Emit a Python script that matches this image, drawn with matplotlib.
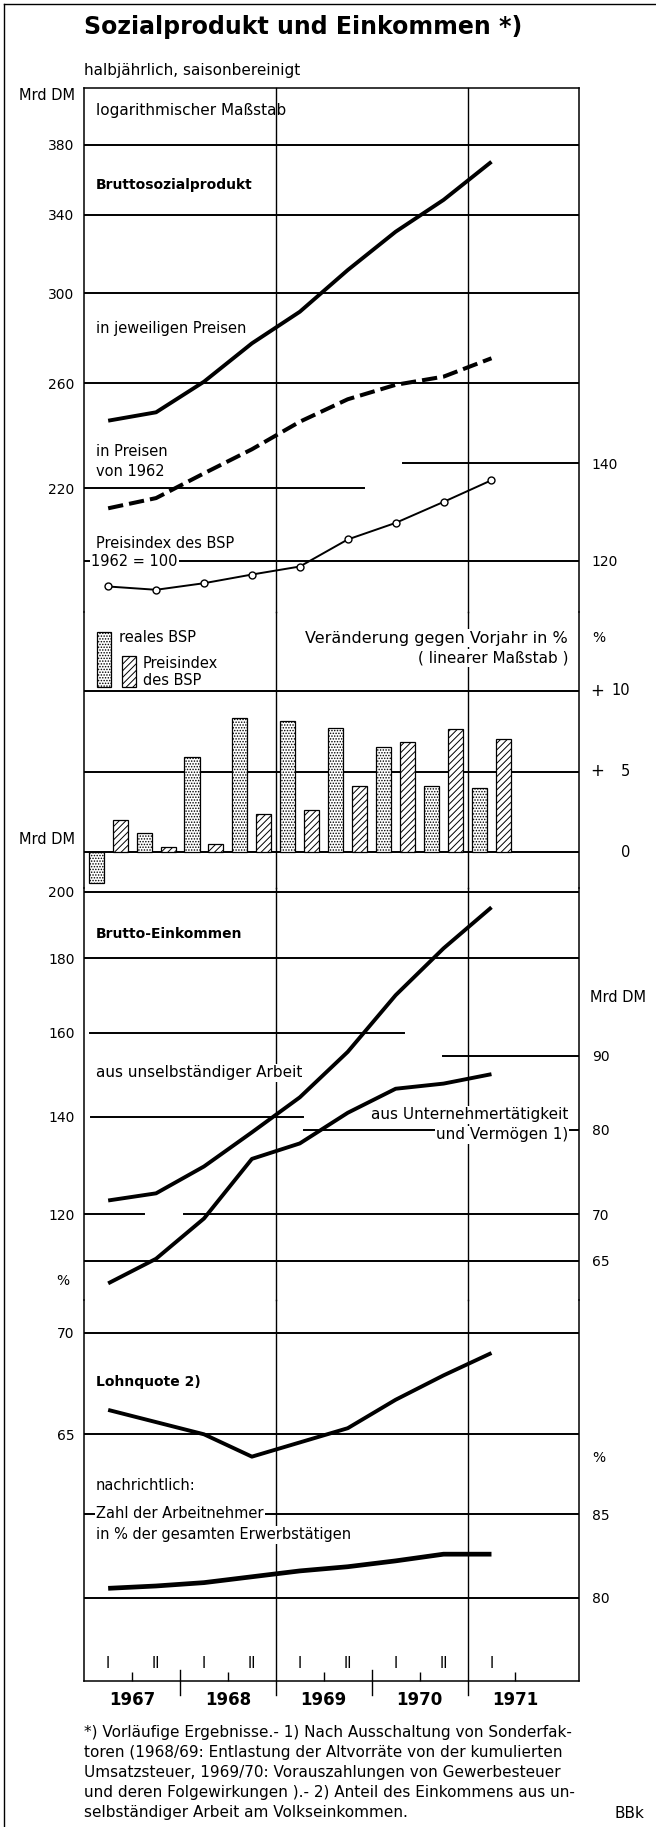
import numpy as np
import matplotlib
matplotlib.use("Agg")
import matplotlib.pyplot as plt
from matplotlib.lines import Line2D
from matplotlib.patches import Rectangle
from matplotlib.ticker import FixedLocator, FixedFormatter, NullLocator
from matplotlib.transforms import blended_transform_factory

plt.rcParams['font.family'] = ['DejaVu Sans']
plt.rcParams['hatch.linewidth'] = 0.7

# ---------------- data ----------------
periods = [1967.25, 1967.75, 1968.25, 1968.75, 1969.25, 1969.75, 1970.25, 1970.75, 1971.25]
half_labels = ["I", "II", "I", "II", "I", "II", "I", "II", "I"]
years = [1967, 1968, 1969, 1970, 1971]

bsp_nominal = [245.0, 248.3, 260.7, 277.1, 291.4, 311.4, 331.0, 348.2, 370.0]
bsp_real = [213.1, 216.6, 225.3, 234.1, 244.6, 253.5, 259.4, 262.8, 270.6]
bsp_price_index = [115.2, 114.6, 115.8, 117.4, 118.9, 124.1, 127.4, 131.7, 136.3]

growth_real = [-1.9, 1.2, 5.9, 8.3, 8.1, 7.7, 6.5, 4.1, 4.0]
growth_price = [2.0, 0.3, 0.5, 2.4, 2.6, 4.1, 6.8, 7.6, 7.0]

income_employees = [122.6, 124.0, 129.4, 136.6, 144.4, 155.2, 169.8, 182.9, 195.2]
income_entrepreneurs = [62.7, 65.2, 69.5, 76.4, 78.3, 82.2, 85.4, 86.1, 87.4]

wage_share = [66.2, 65.6, 65.0, 63.9, 64.6, 65.3, 66.7, 67.9, 69.0]
employee_share = [80.56, 80.7, 80.9, 81.25, 81.6, 81.85, 82.2, 82.6, 82.6]

ticks_bsp = [220, 260, 300, 340, 380]
ticks_index = [120, 140]
ticks_growth = [0, 5, 10]
growth_labels = ["0", "5", "10"]
ticks_income_l = [120, 140, 160, 180, 200]
ticks_income_r = [65, 70, 80, 90]
ticks_wage = [65, 70]
ticks_employees = [80, 85]

footnote = [
    "*) Vorläufige Ergebnisse.- 1) Nach Ausschaltung von Sonderfak-",
    "toren (1968/69: Entlastung der Altvorräte von der kumulierten",
    "Umsatzsteuer, 1969/70: Vorauszahlungen von Gewerbesteuer",
    "und deren Folgewirkungen ).- 2) Anteil des Einkommens aus un-",
    "selbständiger Arbeit am Volkseinkommen.",
]

# ---------------- layout ----------------
W, H, DPI = 656, 1827, 100
L, R = 84.0, 579.3
X0_PX, YEAR_PX = 84.2, 95.83


def px2year(px):
    return 1967 + (px - X0_PX) / YEAR_PX


XLIM = (px2year(L), px2year(R))


def fr(px):
    return (px - L) / (R - L)


def lin_lim(v1, p1, v2, p2, top, bot):
    k = (v1 - v2) / (p2 - p1)
    return v1 - (bot - p1) * k, v1 + (p1 - top) * k


def log_lim(v1, p1, v2, p2, top, bot):
    lo, hi = lin_lim(np.log(v1), p1, np.log(v2), p2, top, bot)
    return float(np.exp(lo)), float(np.exp(hi))


fig = plt.figure(figsize=(W / DPI, H / DPI), dpi=DPI)
fig.patch.set_facecolor('white')

GRID_LW = 1.4
VGRID_LW = 1.0


def add_panel(top, bot):
    ax = fig.add_axes([L / W, 1 - bot / H, (R - L) / W, (bot - top) / H])
    ax.set_xlim(*XLIM)
    ax.patch.set_visible(False)
    for s in ['top', 'bottom']:
        ax.spines[s].set_visible(False)
    for s in ['left', 'right']:
        ax.spines[s].set_linewidth(1.1)
    ax.set_xticks([])
    ax.tick_params(axis='y', length=0, labelsize=10, pad=6.8)
    return ax


def add_twin(ax):
    tw = ax.twinx()
    tw.set_xlim(*XLIM)
    for s in tw.spines.values():
        s.set_visible(False)
    tw.tick_params(axis='y', length=0, labelsize=10, pad=9.0)
    tw.set_xticks([])
    return tw


def set_ticks(ax, ticks):
    ax.yaxis.set_major_locator(FixedLocator(ticks))
    ax.yaxis.set_major_formatter(FixedFormatter([str(t) for t in ticks]))
    ax.yaxis.set_minor_locator(NullLocator())


def hgrid(ax, v, x0=0.0, x1=1.0):
    ax.axhline(v, xmin=x0, xmax=x1, color='black', lw=GRID_LW, zorder=1)


def vgrid(ax, ymin=0.0):
    for yr in (1969, 1971):
        ax.axvline(yr, ymin=ymin, ymax=1, color='black', lw=VGRID_LW, zorder=1, clip_on=False)


def ftext(px, py, s, size=11, ha='left', va='center', weight='normal', white=False):
    bbox = dict(facecolor='white', edgecolor='none', pad=0.8) if white else None
    return fig.text(px / W, 1 - py / H, s, fontsize=size, ha=ha, va=va,
                    fontweight=weight, bbox=bbox, zorder=5)


LINE = dict(color='black', lw=2.8, solid_joinstyle='round', solid_capstyle='butt', zorder=3)

# ---------- Panel A: Bruttosozialprodukt (log) ----------
A_top, A_bot = 88, 612
ax_a = add_panel(A_top, A_bot)
ax_a.spines['top'].set_visible(True)
ax_a.spines['top'].set_linewidth(1.1)
ax_a.set_yscale('log')
ax_a.set_ylim(*log_lim(380, 145, 220, 488.3, A_top, A_bot))
set_ticks(ax_a, ticks_bsp)
ax_ar = add_twin(ax_a)
ax_ar.set_yscale('log')
ax_ar.set_ylim(*log_lim(140, 463.3, 120, 560.7, A_top, A_bot))
set_ticks(ax_ar, ticks_index)

for v in (380, 340, 300, 260):
    hgrid(ax_a, v)
hgrid(ax_a, 220, 0, fr(364))
hgrid(ax_ar, 140, fr(402.9), 1)
hgrid(ax_ar, 120)
vgrid(ax_a)

ax_a.plot(periods, bsp_nominal, **LINE)
ax_a.plot(periods, bsp_real, color='black', lw=2.9, dashes=(3.8, 1.5), zorder=3)
ax_ar.plot(periods, bsp_price_index, color='black', lw=1.4, marker='o', ms=5,
           mfc='white', mec='black', mew=1.0, zorder=3)

# ---------- Panel B: growth bars ----------
B_top, B_bot = 612, 888
ax_b = add_panel(B_top, B_bot)
ax_b.set_ylim(*lin_lim(10, 690.7, 0, 852.3, B_top, B_bot))
ax_b.set_yticks([])
for v in ticks_growth:
    hgrid(ax_b, v)
vgrid(ax_b)
p = np.array(periods)
ax_b.bar(p - 0.125, growth_real, width=0.157, facecolor='white', edgecolor='black',
         hatch='......', lw=0.9, zorder=3)
ax_b.bar(p + 0.125, growth_price, width=0.157, facecolor='white', edgecolor='black',
         hatch='/////', lw=0.9, zorder=3)
trb = blended_transform_factory(fig.transFigure, ax_b.transData)
for v, lab in zip(ticks_growth, growth_labels):
    ax_b.text(630.5 / W, v, lab, transform=trb, ha='right', va='center', fontsize=10.5, clip_on=False)
    if v > 0:
        ax_b.text(597 / W, v, '+', transform=trb, ha='center', va='center', fontsize=12, clip_on=False)

# legend swatches
for (x0, x1, y0, y1, h) in [(96.8, 110.5, 631.7, 687.0, '......'), (121.7, 136.0, 656.0, 687.0, '/////')]:
    fig.add_artist(Rectangle((x0 / W, 1 - y1 / H), (x1 - x0) / W, (y1 - y0) / H,
                             transform=fig.transFigure, facecolor='white', edgecolor='black',
                             hatch=h, lw=0.9, zorder=4))

# ---------- Panel C: Brutto-Einkommen (log) ----------
C_top, C_bot = 888, 1300
ax_c = add_panel(C_top, C_bot)
ax_c.set_yscale('log')
ax_c.set_ylim(*log_lim(200, 892, 120, 1214, C_top, C_bot))
set_ticks(ax_c, ticks_income_l)
ax_cr = add_twin(ax_c)
ax_cr.set_yscale('log')
ax_cr.set_ylim(*log_lim(90, 1055.7, 70, 1214, C_top, C_bot))
set_ticks(ax_cr, ticks_income_r)

hgrid(ax_c, 200)
hgrid(ax_c, 180)
hgrid(ax_c, 160, fr(90), fr(403.7))
hgrid(ax_c, 140, fr(91.2), fr(303.3))
hgrid(ax_c, 120, 0, fr(144.3))
hgrid(ax_c, 120, fr(184.1), 1)
hgrid(ax_cr, 90, fr(442.7), 1)
hgrid(ax_cr, 80, fr(304.2), 1)
hgrid(ax_cr, 65)
vgrid(ax_c)

ax_c.plot(periods, income_employees, **LINE)
ax_cr.plot(periods, income_entrepreneurs, **LINE)

# ---------- Panel D: Lohnquote / Arbeitnehmer ----------
D_top, D_bot = 1300, 1681
ax_d = add_panel(D_top, D_bot)
ax_d.set_ylim(*lin_lim(70, 1332.7, 65, 1434.3, D_top, D_bot))
set_ticks(ax_d, ticks_wage)
ax_dr = add_twin(ax_d)
ax_dr.set_ylim(*lin_lim(85, 1514, 80, 1597.7, D_top, D_bot))
set_ticks(ax_dr, ticks_employees)

hgrid(ax_d, 70)
hgrid(ax_d, 65)
hgrid(ax_dr, 85)
hgrid(ax_dr, 80)
D_h = D_bot - D_top
vgrid(ax_d, ymin=-(1695 - D_bot) / D_h)
for yr in (1968, 1970):
    ax_d.axvline(yr, ymin=-(1695 - D_bot) / D_h, ymax=(D_bot - 1670) / D_h,
                 color='black', lw=VGRID_LW, clip_on=False, zorder=1)

ax_d.spines['bottom'].set_visible(True)
ax_d.spines['bottom'].set_linewidth(1.1)
ax_d.set_xticks([y + 0.5 for y in years])
ax_d.set_xticklabels([str(y) for y in years], fontweight='bold')
ax_d.tick_params(axis='x', direction='in', length=6.8, width=1.0, pad=7, labelsize=12)

ax_d.plot(periods, wage_share, **LINE)
ax_dr.plot(periods, employee_share, color='black', lw=3.4, solid_joinstyle='round',
           solid_capstyle='butt', zorder=3)

trh = blended_transform_factory(ax_d.transData, fig.transFigure)
for x, lab in zip(periods, half_labels):
    ax_d.text(x, 1 - 1663 / H, lab, transform=trh, ha='center', va='center', fontsize=10.5,
              clip_on=False)

# ---------- borders ----------
fig.add_artist(Line2D([4 / W, 4 / W], [0, 1 - 4 / H], transform=fig.transFigure, color='black', lw=1.0))
fig.add_artist(Line2D([4 / W, 1], [1 - 4 / H, 1 - 4 / H], transform=fig.transFigure, color='black', lw=1.0))

# ---------- texts ----------
ftext(83.7, 27, "Sozialprodukt und Einkommen *)", size=17, weight='bold')
ftext(83.7, 70, "halbjährlich, saisonbereinigt", size=11)
ftext(75.3, 95, "Mrd DM", size=10.5, ha='right')
ftext(96, 110, "logarithmischer Maßstab", size=11)
ftext(96, 185, "Bruttosozialprodukt", size=10, weight='bold')
ftext(96, 329, "in jeweiligen Preisen", size=10.5)
ftext(96, 452, "in Preisen", size=10.5)
ftext(96, 471, "von 1962", size=10.5)
ftext(96, 544, "Preisindex des BSP", size=10.5)
ftext(91, 562, "1962 = 100", size=10.5, white=True)

ftext(119.3, 638, "reales BSP", size=10.5)
ftext(143, 663, "Preisindex", size=10.5)
ftext(143, 680, "des BSP", size=10.5)
ftext(568, 638, "Veränderung gegen Vorjahr in %", size=11.5, ha='right', white=True)
ftext(568, 658, "( linearer Maßstab )", size=11, ha='right', white=True)
ftext(592, 638, "%", size=10)

ftext(75.3, 840, "Mrd DM", size=10.5, ha='right')
ftext(96, 934, "Brutto-Einkommen", size=10, weight='bold')
ftext(96, 1073, "aus unselbständiger Arbeit", size=11, white=True)
ftext(590, 998, "Mrd DM", size=10.5)
ftext(568, 1115, "aus Unternehmertätigkeit", size=11, ha='right', white=True)
ftext(568, 1135, "und Vermögen 1)", size=11, ha='right', white=True)

ftext(63, 1281, "%", size=10, ha='center')
ftext(96, 1382, "Lohnquote 2)", size=10, weight='bold')
ftext(599, 1458, "%", size=10, ha='center')
ftext(96, 1486, "nachrichtlich:", size=10.5)
ftext(96, 1513, "Zahl der Arbeitnehmer", size=10.5, white=True)
ftext(96, 1535, "in % der gesamten Erwerbstätigen", size=10.5, white=True)

for i, line in enumerate(footnote):
    ftext(83.7, 1733 + 20 * i, line, size=11)
ftext(615, 1813, "BBk", size=11)

fig.savefig("out.png", dpi=DPI, facecolor='white')
